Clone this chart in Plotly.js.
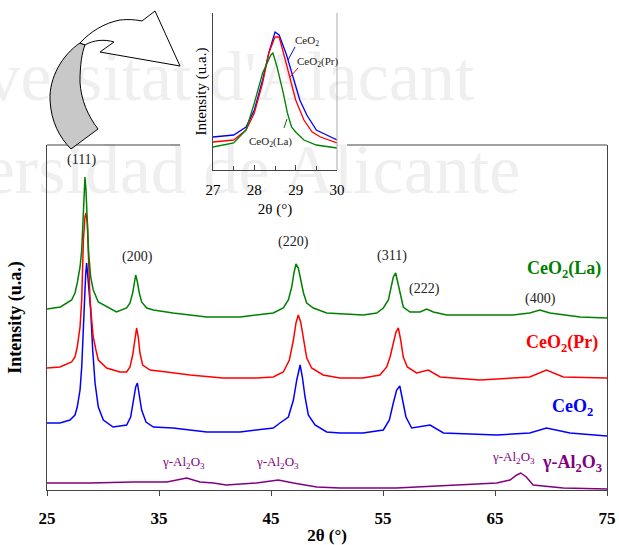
<!DOCTYPE html>
<html><head><meta charset="utf-8">
<script src="https://cdn.plot.ly/plotly-3.0.1.min.js"></script>
<style>html,body{margin:0;padding:0;background:#fff}#chart{width:619px;height:545px}</style>
</head><body><div id="chart"></div>
<script>
// ---------- data (main pattern, arbitrary intensity units, curves offset) ----------
const laX = [25, 26.2, 27.2, 27.5, 27.7, 27.95, 28.1, 28.18, 28.3, 28.39, 28.48, 28.6, 28.72, 28.9, 29.13, 29.58, 30.33, 31.2, 32.11, 32.41, 32.65, 32.8, 32.92, 33.07, 33.24, 33.45, 33.9, 34.5, 36.25, 39.26, 42.23, 45.2, 46.1, 46.55, 46.85, 47.05, 47.23, 47.44, 47.65, 47.9, 48.19, 48.78, 49.97, 53.24, 54.44, 55.03, 55.48, 55.71, 55.92, 56.13, 56.31, 56.52, 56.81, 57.41, 58.3, 58.9, 59.5, 60.69, 63.66, 66.6, 68.1, 69.0, 69.9, 72.6, 75];
const laY = [181, 183, 190, 197, 207, 223, 240, 263, 293, 313, 300, 263, 237, 213, 200, 188, 183, 178, 182, 187, 197, 207, 215, 208, 197, 188, 182, 180, 177, 173, 173, 177, 182, 190, 203, 217, 226, 222, 210, 197, 187, 182, 177, 175, 177, 182, 190, 202, 213, 217, 208, 195, 183, 178, 178, 181, 178, 175, 175, 175, 177, 180, 177, 173, 172];

const prX = [25, 26.16, 27.2, 27.5, 27.7, 27.95, 28.1, 28.25, 28.39, 28.48, 28.6, 28.72, 28.84, 28.99, 29.13, 29.37, 29.58, 30.33, 31.5, 32.11, 32.41, 32.65, 32.83, 33.0, 33.15, 33.3, 33.54, 34.2, 35.69, 37.77, 40.7, 43.7, 45.2, 46.1, 46.64, 47.0, 47.23, 47.44, 47.65, 47.9, 48.19, 48.63, 49.65, 51.16, 53.2, 54.73, 55.33, 55.63, 55.92, 56.16, 56.37, 56.58, 56.81, 57.17, 58.0, 59.05, 60.1, 63.66, 68.1, 69.6, 71.1, 75];
const prY = [122, 123, 128, 133, 143, 163, 190, 250, 273, 277, 267, 233, 190, 170, 153, 140, 130, 122, 118, 118, 123, 135, 152, 162, 153, 137, 125, 120, 118, 115, 112, 112, 113, 118, 130, 150, 167, 175, 168, 150, 132, 122, 115, 112, 112, 115, 123, 133, 147, 158, 162, 150, 133, 123, 117, 120, 113, 110, 113, 120, 113, 112];

const ceX = [25, 26.16, 27.05, 27.5, 27.7, 27.95, 28.1, 28.25, 28.33, 28.45, 28.54, 28.63, 28.9, 29.08, 29.29, 29.58, 30.03, 30.9, 32.11, 32.47, 32.7, 32.92, 33.07, 33.24, 33.45, 33.84, 34.5, 36.25, 39.26, 42.23, 45.2, 45.8, 46.55, 47.0, 47.3, 47.6, 47.8, 48.04, 48.33, 48.93, 49.97, 51.16, 53.2, 55.03, 55.57, 55.92, 56.22, 56.5, 56.75, 57.05, 57.56, 59.2, 60.4, 65.15, 68.1, 69.6, 71.7, 75];
const ceY = [67, 67, 70, 75, 83, 100, 123, 163, 190, 215, 227, 215, 180, 140, 107, 83, 70, 63, 65, 73, 87, 103, 107, 93, 80, 68, 63, 62, 58, 58, 62, 67, 73, 90, 110, 125, 113, 93, 75, 65, 58, 57, 57, 60, 70, 87, 100, 104, 90, 73, 62, 65, 57, 55, 57, 62, 57, 54];

const alX = [25, 28.84, 32.7, 35.7, 37.47, 38.66, 39.85, 41.0, 43.7, 45.65, 47.0, 49.08, 51.16, 56.2, 61.6, 65.15, 66.34, 66.94, 67.3, 67.8, 68.4, 71.1, 75];
const alY = [7, 7, 8, 8, 12, 8, 7, 5, 7, 10, 7, 3, 2, 2, 5, 7, 10, 15, 17, 13, 5, 2, 1];

// ---------- data (inset, (111) region) ----------
const inCeX = [27, 27.5, 27.8, 28.0, 28.2, 28.35, 28.5, 28.6, 28.78, 28.94, 29.1, 29.27, 29.5, 29.75, 30];
const inCeY = [33, 35, 43, 60, 90, 117, 138, 135, 115, 93, 70, 55, 40, 35, 30];
const inPrX = [27, 27.5, 27.8, 28.0, 28.2, 28.35, 28.5, 28.6, 28.75, 28.9, 29.0, 29.2, 29.4, 29.6, 30];
const inPrY = [28, 30, 40, 57, 87, 117, 133, 133, 110, 87, 70, 50, 38, 33, 27];
const inLaX = [27, 27.5, 27.8, 28.0, 28.2, 28.4, 28.45, 28.55, 28.7, 28.8, 28.9, 29.0, 29.2, 29.5, 30];
const inLaY = [23, 27, 40, 67, 97, 115, 117, 103, 77, 57, 43, 38, 30, 25, 22];

// ---------- labels ----------
const mainTicks = [25, 35, 45, 55, 65, 75];
const insetTicks = [27, 28, 29, 30];
const insetMinor = [27.5, 28.5, 29.5];
const hklLabels = ['(111)', '(200)', '(220)', '(311)', '(222)', '(400)'];
const seriesNames = ['CeO<sub>2</sub>(La)', 'CeO<sub>2</sub>(Pr)', 'CeO<sub>2</sub>', 'γ-Al<sub>2</sub>O<sub>3</sub>'];
const alPhase = 'γ-Al<sub>2</sub>O<sub>3</sub>';

// ---------- geometry helpers (pixel -> paper) ----------
const ML = 47, MR = 12, MT = 13, MB = 55;
const PW = 619 - ML - MR, PH = 545 - MT - MB;
const X = px => (px - ML) / PW;
const Y = py => (545 - MB - py) / PH;
function path(cmds) {
  return cmds.map(c => typeof c === 'string' ? c : (X(c[0]).toFixed(4) + ',' + Y(c[1]).toFixed(4))).join(' ');
}

const serif = 'Liberation Serif, Times New Roman, serif';
const GREEN = '#008000', RED = '#ff0000', BLUE = '#0000ff', PURPLE = '#800080';
const AX = '#444444';

const traces = [
  {x: alX, y: alY, xaxis: 'x', yaxis: 'y', mode: 'lines', line: {color: PURPLE, width: 1.5}, hoverinfo: 'skip'},
  {x: ceX, y: ceY, xaxis: 'x', yaxis: 'y', mode: 'lines', line: {color: BLUE, width: 1.5}, hoverinfo: 'skip'},
  {x: prX, y: prY, xaxis: 'x', yaxis: 'y', mode: 'lines', line: {color: RED, width: 1.5}, hoverinfo: 'skip'},
  {x: laX, y: laY, xaxis: 'x', yaxis: 'y', mode: 'lines', line: {color: GREEN, width: 1.5}, hoverinfo: 'skip'},
  {x: inCeX, y: inCeY, xaxis: 'x2', yaxis: 'y2', mode: 'lines', line: {color: BLUE, width: 1.3}, hoverinfo: 'skip'},
  {x: inPrX, y: inPrY, xaxis: 'x2', yaxis: 'y2', mode: 'lines', line: {color: RED, width: 1.3}, hoverinfo: 'skip'},
  {x: inLaX, y: inLaY, xaxis: 'x2', yaxis: 'y2', mode: 'lines', line: {color: GREEN, width: 1.3}, hoverinfo: 'skip'}
];

function ann(text, px, py, opts) {
  return Object.assign({text: text, xref: 'paper', yref: 'paper', x: X(px), y: Y(py),
    xanchor: 'center', yanchor: 'middle', showarrow: false,
    font: {family: serif, size: 14, color: '#222'}}, opts || {});
}

const hklPos = [[82, 160], [137, 257], [293, 242], [392, 256], [424, 289], [540, 299]];
const annotations = hklLabels.map((t, i) => ann(t, hklPos[i][0], hklPos[i][1]));
const serPos = [[603, 269, GREEN], [600, 343, RED], [595, 407, BLUE], [604, 463, PURPLE]];
seriesNames.forEach((t, i) => annotations.push(ann(t, serPos[i][0], serPos[i][1],
  {xanchor: 'right', font: {family: serif, size: 18, color: serPos[i][2], weight: 'bold'}})));
[[183, 462], [277, 462], [513, 457]].forEach(p => annotations.push(ann(alPhase, p[0], p[1],
  {font: {family: serif, size: 13, color: PURPLE}})));
annotations.push(ann('CeO<sub>2</sub>', 307, 41, {font: {family: serif, size: 11, color: '#222'}}));
annotations.push(ann('CeO<sub>2</sub>(Pr)', 317, 62, {font: {family: serif, size: 11, color: '#222'}}));
annotations.push(ann('CeO<sub>2</sub>(La)', 270, 142, {font: {family: serif, size: 11, color: '#222'}}));

const ln = (x0, y0, x1, y1, color, w) => ({type: 'line', xref: 'paper', yref: 'paper',
  x0: X(x0), y0: Y(y0), x1: X(x1), y1: Y(y1), line: {color: color, width: w || 1}});

const wm = (text, x0, x1, yc) => ({type: 'rect', xref: 'paper', yref: 'paper', layer: 'below',
  x0: X(x0), x1: X(x1), y0: Y(yc + 30), y1: Y(yc - 30), line: {width: 0}, fillcolor: 'rgba(0,0,0,0)',
  label: {text: text, textposition: 'middle center', font: {family: serif, size: 70, color: '#efefef'}}});

const shapes = [
  wm("Universitat d'Alacant", -125, 480, 68),
  wm('Universidad de Alicante', -158, 522, 161),
  ln(47, 145, 180, 145, AX),
  ln(347, 145, 607, 145, AX),
  ln(337, 13, 337, 170, '#aaaaaa'),
  ln(288, 60, 295, 47, BLUE),
  ln(290, 77, 298, 68, RED),
  ln(284, 128, 287, 119, GREEN),
  {type: 'path', xref: 'paper', yref: 'paper', fillcolor: '#c8c8c8', line: {color: '#000', width: 1},
   path: path(['M', [80, 43], 'C', [62, 55], [49, 78], [50, 100], 'C', [51, 122], [60, 138], [71, 149],
               'L', [98, 129], 'C', [88, 116], [81, 100], [80, 82], 'C', [80, 65], [82, 52], [85, 45], 'Z'])},
  {type: 'path', xref: 'paper', yref: 'paper', fillcolor: '#ffffff', line: {color: '#000', width: 1},
   path: path(['M', [80, 43], 'C', [90, 32], [104, 23], [120, 20], 'C', [130, 19], [137, 20], [142, 21],
               'L', [155, 11], 'L', [180, 66], 'L', [100, 52], 'L', [114, 42],
               'C', [105, 39], [93, 40], [85, 45], 'Z'])}
];

const layout = {
  width: 619, height: 545,
  margin: {l: ML, r: MR, t: MT, b: MB, pad: 0},
  paper_bgcolor: '#ffffff', plot_bgcolor: 'rgba(0,0,0,0)',
  showlegend: false,
  font: {family: serif, color: '#000'},
  xaxis: {domain: [0, 1], range: [25, 75], anchor: 'y', tickvals: mainTicks, ticks: 'outside', ticklen: 5,
    tickcolor: AX, showline: true, linecolor: AX, linewidth: 1, showgrid: false, zeroline: false,
    tickfont: {family: serif, size: 17, color: '#000', weight: 'bold'}, ticklabelstandoff: 8,
    title: {text: '2θ (°)', font: {family: serif, size: 17, color: '#000', weight: 'bold'}, standoff: 1}, automargin: false},
  yaxis: {domain: [0, Y(145)], range: [0, 345], anchor: 'x', showline: true, mirror: true, linecolor: AX, linewidth: 1,
    showticklabels: false, ticks: '', showgrid: false, zeroline: false,
    title: {text: 'Intensity (u.a.)', font: {family: serif, size: 18, color: '#000', weight: 'bold'}, standoff: 19}, automargin: false},
  xaxis2: {domain: [X(213), X(337)], range: [27, 30], anchor: 'y2', tickvals: insetTicks, ticks: 'inside', ticklen: 5,
    tickcolor: AX, minor: {tickvals: insetMinor, ticks: 'inside', ticklen: 4, tickcolor: AX},
    showline: true, linecolor: AX, linewidth: 1, showgrid: false, zeroline: false,
    tickfont: {family: serif, size: 15, color: '#000'}, ticklabelstandoff: 6,
    title: {text: '2θ (°)', font: {family: serif, size: 15, color: '#000'}, standoff: 6}, automargin: false},
  yaxis2: {domain: [Y(170), 1], range: [0, 157], anchor: 'x2', showline: true, linecolor: AX, linewidth: 1,
    showticklabels: false, ticks: '', showgrid: false, zeroline: false,
    title: {text: 'Intensity (u.a.)', font: {family: serif, size: 15, color: '#000'}, standoff: 1}, automargin: false},
  annotations: annotations,
  shapes: shapes
};

Plotly.newPlot('chart', traces, layout, {staticPlot: true, displayModeBar: false});
</script></body></html>
